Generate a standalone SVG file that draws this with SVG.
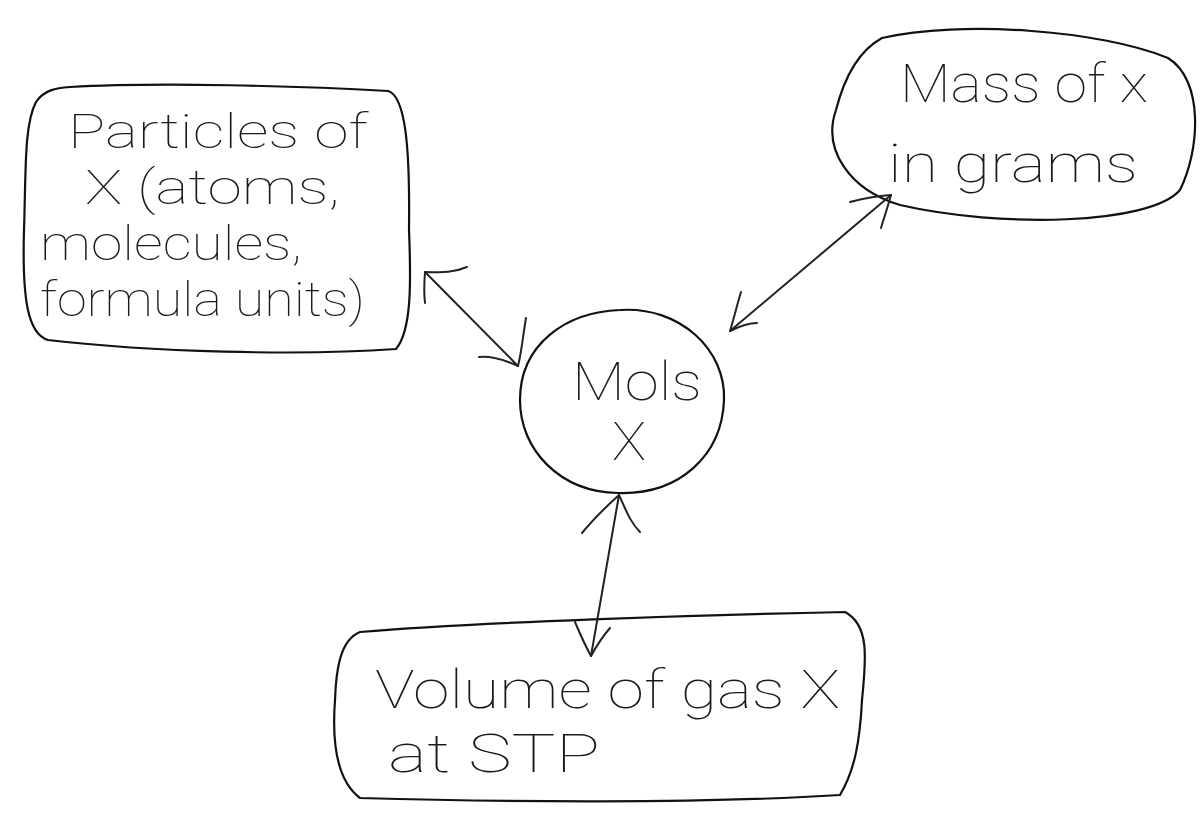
<svg xmlns="http://www.w3.org/2000/svg" width="1201" height="836" viewBox="0 0 1201 836">
  <style>
    .outline { fill: none; stroke: #111; stroke-width: 2.2; stroke-linecap: round; stroke-linejoin: round; }
    .link { fill: none; stroke: #222; stroke-width: 2; stroke-linecap: round; stroke-linejoin: round; }
    .label { font-family: Roboto, "Open Sans", "Liberation Sans", sans-serif; font-size: 54px; fill: #1a1a1a; font-weight: 100; }
    .tight { font-size: 48px; }
  </style>
  <rect width="1201" height="836" fill="#fff"/>

  <!-- Particles of X -->
  <g id="node-particles">
    <path class="outline" d="M70,87 C160,82 300,86 388,91 C406,96 410,150 409,230 C411,280 412,330 396,349 C300,356 150,352 48,340 C28,334 22,300 24,230 C26,170 24,125 36,102 C44,90 56,88 70,87 Z"/>
    <text class="label tight" x="68" y="148" textLength="300" lengthAdjust="spacingAndGlyphs">Particles of</text>
    <text class="label tight" x="85" y="204" textLength="255" lengthAdjust="spacingAndGlyphs">X (atoms,</text>
    <text class="label tight" x="40" y="260" textLength="262" lengthAdjust="spacingAndGlyphs">molecules,</text>
    <text class="label tight" x="40" y="316" textLength="325" lengthAdjust="spacingAndGlyphs">formula units)</text>
  </g>

  <!-- Mass of X -->
  <g id="node-mass">
    <path class="outline" d="M882,38 C960,20 1100,30 1168,58 C1204,80 1200,150 1180,190 C1150,225 1000,228 900,205 C850,190 822,150 836,110 C845,75 860,50 882,38 Z"/>
    <text class="label" x="900" y="102" textLength="248" lengthAdjust="spacingAndGlyphs">Mass of x</text>
    <text class="label" x="888" y="182" textLength="250" lengthAdjust="spacingAndGlyphs">in grams</text>
  </g>

  <!-- Mols X -->
  <g id="node-mols">
    <path class="outline" d="M620,310 C680,306 726,350 724,400 C722,455 680,495 618,493 C560,492 520,450 520,400 C520,345 565,312 620,310 Z"/>
    <text class="label" x="572" y="400" textLength="130" lengthAdjust="spacingAndGlyphs">Mols</text>
    <text class="label" x="612" y="460" textLength="34" lengthAdjust="spacingAndGlyphs">X</text>
  </g>

  <!-- Volume of gas X at STP -->
  <g id="node-volume">
    <path class="outline" d="M360,632 C480,622 700,615 845,612 C870,625 866,660 862,700 C860,740 855,770 840,795 C700,804 500,802 360,798 C336,780 332,740 335,700 C336,670 340,640 360,632 Z"/>
    <text class="label" x="375" y="708" textLength="465" lengthAdjust="spacingAndGlyphs">Volume of gas X</text>
    <text class="label" x="388" y="772" textLength="212" lengthAdjust="spacingAndGlyphs">at STP</text>
  </g>

  <!-- Two-headed connectors, drawn freehand -->
  <g id="connectors">
    <path class="link" d="M425,272 L518,366"/>
    <path class="link" d="M467,267 C450,274 438,272 425,272 C424,285 424,295 425,303"/>
    <path class="link" d="M526,318 C523,335 522,350 518,366 C505,360 492,356 479,357"/>

    <path class="link" d="M891,195 L730,331"/>
    <path class="link" d="M850,202 C865,198 878,196 891,195 C888,206 884,218 881,228"/>
    <path class="link" d="M741,292 C737,305 734,318 730,331 C740,326 748,323 757,323"/>

    <path class="link" d="M619,495 L591,656"/>
    <path class="link" d="M582,533 C596,516 608,505 619,495 C626,510 630,522 640,532"/>
    <path class="link" d="M575,622 C580,634 585,645 591,656 C597,645 603,636 610,628"/>
  </g>
</svg>
